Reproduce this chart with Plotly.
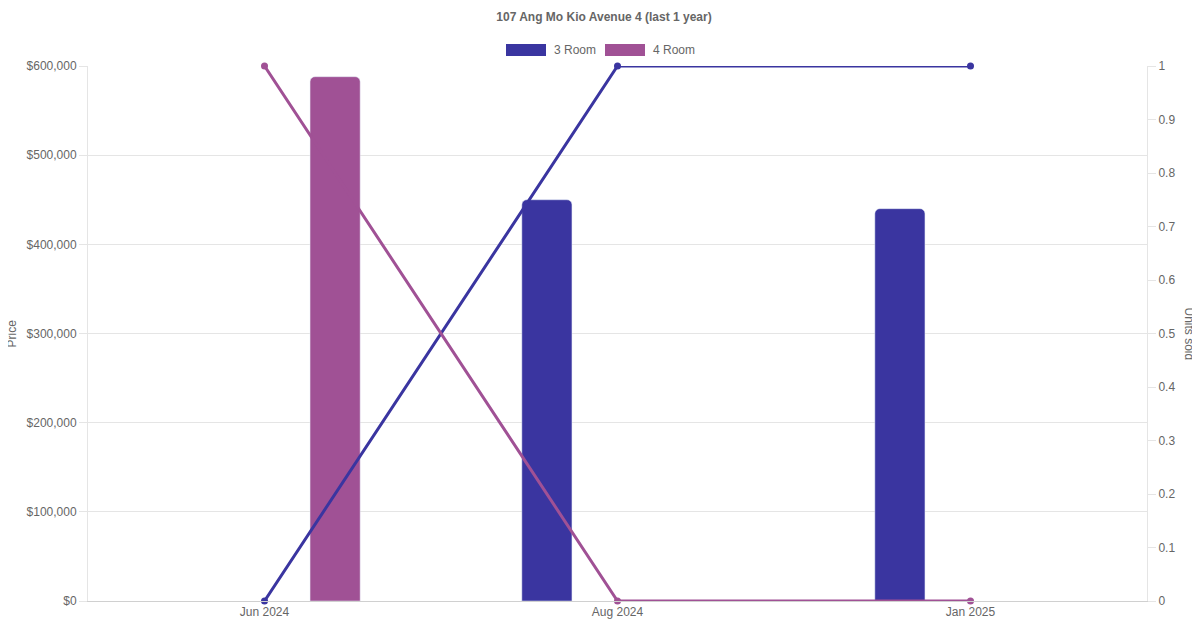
import plotly.graph_objects as go

# data
months = ["Jun 2024", "Aug 2024", "Jan 2025"]
price_3room = [None, 450000, 440000]
price_4room = [588000, None, None]
units_3room = [0, 1, 1]
units_4room = [1, 0, 0]

col_3 = "#3a35a0"
col_4 = "#a05195"
grey = "#666666"
grid = "#e5e5e5"

# the page body adds an 8px margin, so the figure is 8px smaller
W, H = 1192, 622
PL, PR, PT, PB = 80, 53, 58, 29
pw, ph = W - PL - PR, H - PT - PB

fig = go.Figure()

# bars (price, left axis)
fig.add_trace(go.Bar(
    x=months, y=price_3room, name="3 Room",
    marker=dict(color=col_3, cornerradius=5),
    width=0.142, offset=-0.271, showlegend=False
))
fig.add_trace(go.Bar(
    x=months, y=price_4room, name="4 Room",
    marker=dict(color=col_4, cornerradius=5),
    width=0.142, offset=0.129, showlegend=False
))

# lines (units sold, right axis)
fig.add_trace(go.Scatter(
    x=months, y=units_3room, yaxis="y2", mode="lines+markers",
    line=dict(color=col_3, width=3), marker=dict(size=7, color=col_3),
    showlegend=False, cliponaxis=False
))
fig.add_trace(go.Scatter(
    x=months, y=units_4room, yaxis="y2", mode="lines+markers",
    line=dict(color=col_4, width=3), marker=dict(size=7, color=col_4),
    showlegend=False, cliponaxis=False
))

# legend drawn like chart.js boxes (page pixel coords -> paper)
def px(x):
    return (x - 8 - PL) / pw

def py(y):
    return (H - PB - (y - 8)) / ph

shapes = []
annotations = []
for x0, label, c in [(506, "3 Room", col_3), (605, "4 Room", col_4)]:
    shapes.append(dict(type="rect", xref="paper", yref="paper",
                       x0=px(x0), x1=px(x0 + 40), y0=py(56), y1=py(44),
                       fillcolor=c, line=dict(color=c, width=0)))
    annotations.append(dict(text=label, xref="paper", yref="paper",
                            x=px(x0 + 46), y=py(50),
                            xanchor="left", yanchor="middle", showarrow=False,
                            font=dict(size=12, color=grey)))

annotations.append(dict(text="Price", xref="paper", yref="paper",
                        x=px(11), y=0.5, textangle=-90, showarrow=False,
                        xanchor="center", yanchor="middle",
                        font=dict(size=12, color=grey)))
annotations.append(dict(text="Units sold", xref="paper", yref="paper",
                        x=px(1189), y=0.5, textangle=90, showarrow=False,
                        xanchor="center", yanchor="middle",
                        font=dict(size=12, color=grey)))

fig.update_layout(
    width=W, height=H,
    margin=dict(l=PL, r=PR, t=PT, b=PB),
    paper_bgcolor="white", plot_bgcolor="white",
    font=dict(family="Liberation Sans, Arial, sans-serif", size=12, color=grey),
    title=dict(text="<b>107 Ang Mo Kio Avenue 4 (last 1 year)</b>",
               x=0.5, xanchor="center", y=1 - 9 / H, yanchor="middle",
               font=dict(size=12, color=grey)),
    barmode="overlay",
    xaxis=dict(type="category", range=[-0.5, 2.5], showgrid=False,
               showline=True, linecolor="#d0d0d0", linewidth=1,
               ticks="", tickfont=dict(size=12, color=grey)),
    yaxis=dict(range=[0, 600000], dtick=100000, tickprefix="$",
               tickformat=",d", showgrid=True, gridcolor=grid,
               showline=True, linecolor=grid, ticks="outside",
               ticklen=8, tickcolor=grid, zeroline=False,
               tickfont=dict(size=12, color=grey)),
    yaxis2=dict(range=[0, 1], dtick=0.1, overlaying="y", side="right",
                showgrid=False, showline=True, linecolor=grid,
                ticks="outside", ticklen=8, tickcolor=grid, zeroline=False,
                tickformat="~g", tickfont=dict(size=12, color=grey)),
    shapes=shapes,
    annotations=annotations,
)

fig.write_html("out.html")
